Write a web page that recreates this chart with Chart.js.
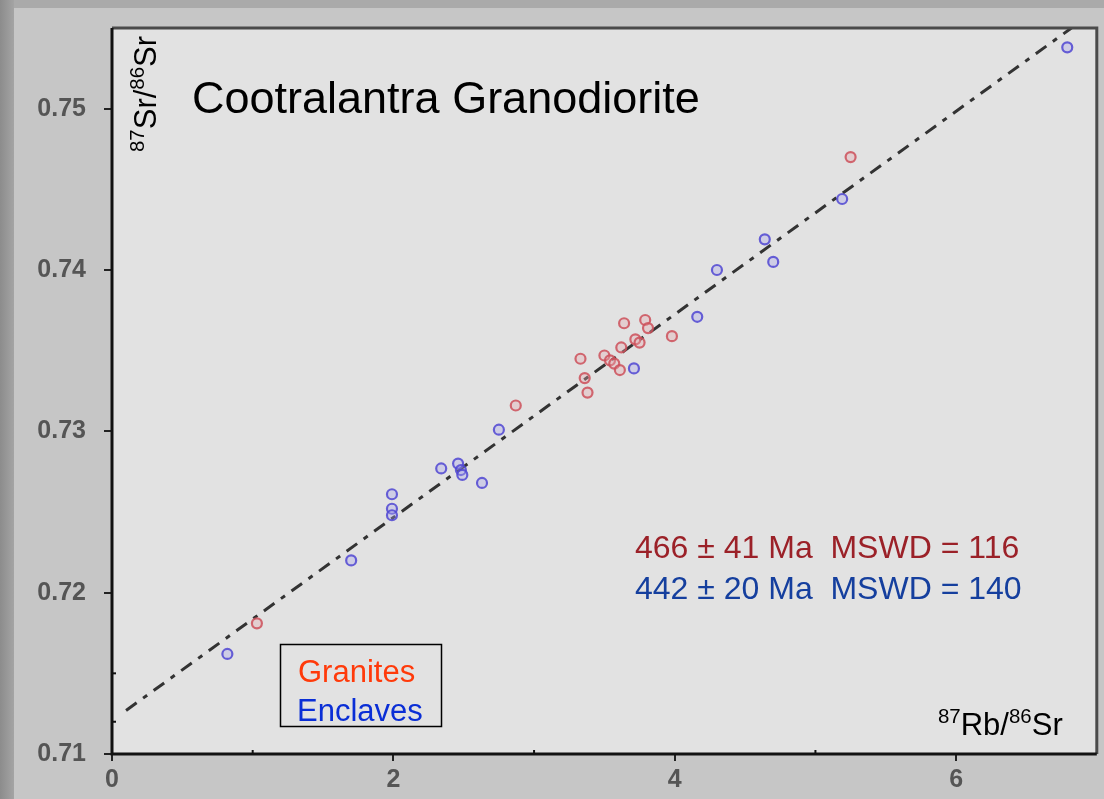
<!DOCTYPE html>
<html>
<head>
<meta charset="utf-8">
<script src="https://cdn.jsdelivr.net/npm/chart.js@4"></script>
<style>
  html, body { margin: 0; padding: 0; background: #b4b4b4; }
  #wrap { width: 1104px; height: 799px; }
</style>
</head>
<body>
<div id="wrap"><canvas id="c" width="1104" height="799"></canvas></div>
<script>
// Granites (red)
const graniteX = [1.03, 2.87, 3.33, 3.36, 3.38, 3.50, 3.54, 3.57, 3.61, 3.62, 3.64, 3.72, 3.75, 3.79, 3.81, 3.98, 5.25];
const graniteY = [0.7181, 0.7316, 0.7345, 0.7333, 0.7324, 0.7347, 0.7344, 0.7342, 0.7338, 0.7352, 0.7367, 0.7357, 0.7355, 0.7369, 0.7364, 0.7359, 0.7470];
// Enclaves (blue)
const enclaveX = [0.82, 1.70, 1.99, 1.99, 1.99, 2.34, 2.46, 2.48, 2.49, 2.63, 2.75, 3.71, 4.16, 4.30, 4.64, 4.70, 5.19, 6.79];
const enclaveY = [0.7162, 0.7220, 0.7261, 0.7252, 0.7248, 0.7277, 0.7280, 0.7276, 0.7273, 0.7268, 0.7301, 0.7339, 0.7371, 0.7400, 0.7419, 0.7405, 0.7444, 0.7538];
// isochron fit line, end points
const fitX = [0.10, 6.82];
const fitY = [0.7127, 0.7550];

const xTicks = [0, 2, 4, 6];
const yTicks = [0.71, 0.72, 0.73, 0.74, 0.75];

const results = [
  { text: "466 \u00b1 41 Ma  MSWD = 116", color: "#9b2128" },
  { text: "442 \u00b1 20 Ma  MSWD = 140", color: "#153f9e" }
];

const FONT = '"Liberation Sans", Arial, sans-serif';

function pts(xs, ys) {
  return xs.map((x, i) => ({ x: x, y: ys[i] }));
}

// draws text made of [string, isSuperscript] parts
function drawParts(ctx, parts, x, y, size) {
  let cx = x;
  parts.forEach(p => {
    const s = p[1] ? size * 0.66 : size;
    ctx.font = s + "px " + FONT;
    ctx.fillText(p[0], cx, p[1] ? y - size * 0.38 : y);
    cx += ctx.measureText(p[0]).width;
  });
}

const decor = {
  id: "decor",
  beforeDraw(chart) {
    const ctx = chart.ctx;
    const a = chart.chartArea;
    ctx.save();
    // outer frame
    ctx.fillStyle = "#c6c6c6";
    ctx.fillRect(0, 0, chart.width, chart.height);
    ctx.fillStyle = "#aaaaaa";
    ctx.fillRect(0, 0, chart.width, 8);
    const g = ctx.createLinearGradient(0, 0, 14, 0);
    g.addColorStop(0, "#8c8c8c");
    g.addColorStop(1, "#a4a4a4");
    ctx.fillStyle = g;
    ctx.fillRect(0, 0, 14, chart.height);
    // plot area
    ctx.fillStyle = "#e2e2e2";
    ctx.fillRect(a.left, a.top, a.right - a.left, a.bottom - a.top);
    ctx.restore();
  },
  afterDraw(chart) {
    const ctx = chart.ctx;
    const a = chart.chartArea;
    ctx.save();
    // frame lines
    ctx.strokeStyle = "#4a4a4a";
    ctx.lineWidth = 3;
    ctx.beginPath();
    ctx.moveTo(a.left, a.top);
    ctx.lineTo(a.right, a.top);
    ctx.lineTo(a.right, a.bottom);
    ctx.stroke();
    ctx.strokeStyle = "#111";
    ctx.lineWidth = 3;
    ctx.beginPath();
    ctx.moveTo(a.left, a.top);
    ctx.lineTo(a.left, a.bottom);
    ctx.lineTo(a.right, a.bottom);
    ctx.stroke();

    // small minor ticks
    const xs = chart.scales.x, ys = chart.scales.y;
    ctx.lineWidth = 2;
    [1, 3, 5].forEach(v => {
      const px = xs.getPixelForValue(v);
      ctx.beginPath();
      ctx.moveTo(px, a.bottom);
      ctx.lineTo(px, a.bottom - 4);
      ctx.stroke();
    });
    [0.712, 0.715].forEach(v => {
      const py = ys.getPixelForValue(v);
      ctx.beginPath();
      ctx.moveTo(a.left, py);
      ctx.lineTo(a.left + 4, py);
      ctx.stroke();
    });

    ctx.fillStyle = "#000";
    ctx.textBaseline = "alphabetic";
    // title
    ctx.font = "45px " + FONT;
    ctx.fillText("Cootralantra Granodiorite", 192, 113);

    // y axis title, rotated
    ctx.save();
    ctx.translate(156, 152);
    ctx.rotate(-Math.PI / 2);
    drawParts(ctx, [["87", true], ["Sr/", false], ["86", true], ["Sr", false]], 0, 0, 31);
    ctx.restore();

    // x axis title
    ctx.fillStyle = "#000";
    drawParts(ctx, [["87", true], ["Rb/", false], ["86", true], ["Sr", false]], 938, 735, 31);

    // age results
    ctx.font = "32px " + FONT;
    results.forEach((r, i) => {
      ctx.fillStyle = r.color;
      ctx.fillText(r.text, 635, 558 + i * 41);
    });

    // legend box
    ctx.strokeStyle = "#000";
    ctx.lineWidth = 1.5;
    ctx.strokeRect(280.5, 644.5, 161, 82);
    ctx.font = "31px " + FONT;
    ctx.fillStyle = "#ff3a0a";
    ctx.fillText("Granites", 298, 682);
    ctx.fillStyle = "#0a2ed6";
    ctx.fillText("Enclaves", 297, 721);
    ctx.restore();
  }
};

new Chart(document.getElementById("c"), {
  type: "scatter",
  data: {
    datasets: [
      {
        label: "Granites",
        data: pts(graniteX, graniteY),
        pointRadius: 5,
        pointBorderWidth: 2.2,
        borderColor: "rgba(205, 80, 90, 0.85)",
        backgroundColor: "rgba(230, 170, 175, 0.35)",
        order: 1
      },
      {
        label: "Enclaves",
        data: pts(enclaveX, enclaveY),
        pointRadius: 5,
        pointBorderWidth: 2.2,
        borderColor: "rgba(80, 70, 210, 0.85)",
        backgroundColor: "rgba(170, 165, 235, 0.35)",
        order: 2
      },
      {
        type: "line",
        label: "Isochron",
        data: pts(fitX, fitY),
        borderColor: "#333",
        borderWidth: 3,
        borderDash: [13, 8, 5, 8],
        pointRadius: 0,
        fill: false,
        order: 3
      }
    ]
  },
  options: {
    responsive: false,
    animation: false,
    layout: { padding: { top: 28, right: 6, left: 0, bottom: 0 } },
    plugins: {
      legend: { display: false },
      tooltip: { enabled: false }
    },
    scales: {
      x: {
        type: "linear",
        min: 0,
        max: 7,
        afterFit: s => { s.height = 45; s.paddingLeft = 0; s.paddingRight = 0; },
        afterBuildTicks: s => { s.ticks = xTicks.map(v => ({ value: v })); },
        border: { display: false },
        grid: { drawOnChartArea: false, tickLength: 7, color: "#222", lineWidth: 2 },
        ticks: {
          padding: 4,
          color: "#555",
          font: { family: FONT, size: 25, weight: "bold" }
        }
      },
      y: {
        type: "linear",
        min: 0.71,
        max: 0.755,
        afterFit: s => { s.width = 112; s.paddingTop = 0; s.paddingBottom = 0; },
        afterBuildTicks: s => { s.ticks = yTicks.map(v => ({ value: v })); },
        border: { display: false },
        grid: { drawOnChartArea: false, tickLength: 8, color: "#222", lineWidth: 2 },
        ticks: {
          padding: 18,
          color: "#555",
          font: { family: FONT, size: 25, weight: "bold" },
          callback: v => v.toFixed(2)
        }
      }
    }
  },
  plugins: [decor]
});
</script>
</body>
</html>
